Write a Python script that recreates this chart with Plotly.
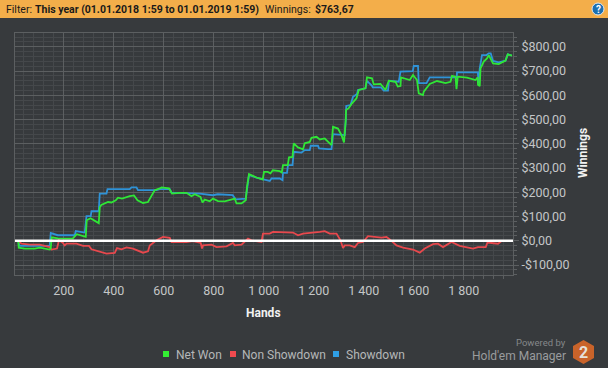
import plotly.graph_objects as go

BG = "#373a3d"
FONT = "Roboto"

net_hands = [18,20,44,84,104,144,148,152,176,236,252,288,292,307,340,344,350,377,391,408,417,433,464,481,495,517,537,551,564,584,591,621,633,664,691,711,724,747,755,764,784,797,817,844,871,884,891,911,928,933,941,971,996,1001,1016,1027,1036,1064,1072,1077,1096,1101,1115,1120,1137,1157,1164,1184,1191,1211,1224,1244,1264,1271,1277,1297,1311,1321,1328,1329,1340,1353,1371,1380,1407,1413,1433,1440,1467,1487,1500,1527,1536,1547,1549,1584,1597,1613,1620,1637,1640,1664,1693,1727,1747,1753,1767,1771,1776,1813,1847,1856,1857,1864,1867,1880,1893,1900,1917,1940,1967,1976,1993]
net_won = [0,-28,-32,-32,-28,-36,-30,14,10,9,27,16,85,93,73,138,148,160,158,167,178,174,184,187,167,156,160,188,209,216,220,216,195,198,198,184,192,181,158,170,163,174,164,163,171,174,154,154,167,222,275,261,253,284,284,278,291,287,282,312,312,344,346,402,385,377,402,408,425,429,418,422,402,395,470,463,436,406,498,539,547,567,588,622,629,674,670,645,647,622,660,656,636,638,674,663,684,663,608,601,615,647,659,650,656,680,677,625,677,673,663,674,643,638,711,739,752,766,732,729,743,769,764]

sd_hands = [17,24,144,148,176,244,248,284,291,308,311,340,344,371,375,464,471,491,497,571,584,624,631,744,796,816,876,887,928,933,941,971,1000,1024,1031,1064,1075,1077,1093,1097,1115,1120,1151,1164,1184,1188,1217,1221,1257,1271,1277,1324,1328,1330,1347,1357,1373,1377,1407,1413,1432,1436,1469,1480,1497,1501,1540,1547,1596,1600,1617,1620,1651,1664,1772,1773,1856,1860,1864,1873,1891,1900,1908,1917,1940,1967,1976,1992]
showdown = [0,-21,-21,32,23,23,40,34,102,102,122,122,195,195,213,213,220,220,209,209,213,213,199,195,188,192,188,171,174,222,271,261,254,247,257,257,250,280,280,312,312,367,364,374,374,392,392,381,378,378,440,436,498,556,560,594,605,622,629,660,640,633,633,619,619,660,656,698,700,721,721,650,650,674,674,695,695,650,711,766,766,773,773,742,736,743,769,764]

nsd_hands = [16,31,64,104,144,151,173,181,197,204,211,251,277,301,311,344,371,404,413,431,451,477,517,537,544,571,597,624,631,691,717,748,753,757,791,811,851,877,884,911,937,951,991,997,1024,1037,1077,1117,1137,1157,1224,1244,1264,1291,1307,1317,1324,1344,1364,1377,1397,1417,1471,1491,1504,1531,1557,1597,1624,1644,1677,1697,1717,1744,1751,1784,1811,1837,1857,1888,1895,1937,1951,1995]
non_showdown = [0,-12,-16,-16,-26,-36,-32,2,-9,-19,-12,-12,-21,-21,-35,-46,-53,-50,-30,-35,-27,-32,-49,-43,-19,2,16,12,-5,-5,-1,-9,-32,-19,-16,-26,-23,-9,-19,-16,9,2,-5,30,30,37,37,34,23,30,37,40,30,30,2,-30,-19,-19,-26,-9,-5,19,13,16,6,-19,-28,-36,-49,-32,-14,-12,-26,-12,-5,-21,-26,-32,-26,-26,-7,-12,-1,-1]

x_tick_vals = [200,400,600,800,1000,1200,1400,1600,1800]
x_tick_text = ["200","400","600","800","1 000","1 200","1 400","1 600","1 800"]
y_tick_vals = [-100,0,100,200,300,400,500,600,700,800]
y_tick_text = ["-$100,00","$0,00","$100,00","$200,00","$300,00","$400,00","$500,00","$600,00","$700,00","$800,00"]

legend_names = ["Net Won","Non Showdown","Showdown"]
legend_colors = ["#33ee33","#f04a4f","#2f9fe6"]

W, H = 608, 368
L, R, T, B = 15, 513, 33, 275
def px(x): return (x - L) / (R - L)
def py(y): return (B - y) / (B - T)

fig = go.Figure()
fig.add_trace(go.Scatter(x=sd_hands, y=showdown, name="Showdown", mode="lines", line=dict(color="#2f93d8", width=1.8)))
fig.add_trace(go.Scatter(x=nsd_hands, y=non_showdown, name="Non Showdown", mode="lines", line=dict(color="#e8484d", width=1.8)))
fig.add_trace(go.Scatter(x=net_hands, y=net_won, name="Net Won", mode="lines", line=dict(color="#2fe636", width=1.8)))

shapes = [
    dict(type="rect", xref="paper", yref="paper", x0=px(0), x1=px(W), y0=py(18), y1=py(0), fillcolor="#f3ae4a", line_width=0, layer="below"),
    dict(type="line", xref="paper", yref="y", x0=0, x1=1, y0=0, y1=0, line=dict(color="white", width=2.5), layer="above"),
    dict(type="circle", xref="paper", yref="paper", x0=px(592), x1=px(604), y0=py(15), y1=py(3), fillcolor="#1b6fb0", line=dict(color="#dfe8ef", width=1)),
    dict(type="path", xref="paper", yref="paper",
         path=f"M {px(583.5)} {py(340)} L {px(594)} {py(346)} L {px(594)} {py(358)} L {px(583.5)} {py(364)} L {px(573)} {py(358)} L {px(573)} {py(346)} Z",
         fillcolor="#c9632a", line_width=0),
]
annots = [
    dict(x=px(5), y=py(9.5), text="Filter:", font=dict(size=10.5, color="#1a1a1a"), xanchor="left"),
    dict(x=px(34), y=py(9.5), text="<b>This year (01.01.2018 1:59 to 01.01.2019 1:59)</b>", font=dict(size=10.5, color="#1a1a1a"), xanchor="left"),
    dict(x=px(264), y=py(9.5), text="Winnings:", font=dict(size=10.5, color="#1a1a1a"), xanchor="left"),
    dict(x=px(314), y=py(9.5), text="<b>$763,67</b>", font=dict(size=10.5, color="#1a1a1a"), xanchor="left"),
    dict(x=px(598), y=py(9), text="<b>?</b>", font=dict(size=10, color="white")),
    dict(x=px(263), y=py(313), text="<b>Hands</b>", font=dict(size=12, color="#f2f2f2")),
    dict(x=px(583), y=py(153), text="<b>Winnings</b>", textangle=-90, font=dict(size=12, color="#f2f2f2")),
    dict(x=px(567), y=py(342), text="Powered by", font=dict(size=9.5, color="#85888a"), xanchor="right"),
    dict(x=px(567), y=py(355.5), text="Hold'em Manager", font=dict(size=12, color="#9a9c9e"), xanchor="right"),
    dict(x=px(583.5), y=py(352), text="<b>2</b>", font=dict(size=16, color="#e6e0da")),
]
for name, color, mx, tx in zip(legend_names, legend_colors, [166, 233, 336], [175, 241, 345]):
    shapes.append(dict(type="rect", xref="paper", yref="paper", x0=px(mx-3), x1=px(mx+3), y0=py(357), y1=py(351), fillcolor=color, line_width=0))
    annots.append(dict(x=px(tx), y=py(354.5), text=name, font=dict(size=12, color="#b5b7b8"), xanchor="left"))
for a in annots:
    a.update(xref="paper", yref="paper", showarrow=False, borderpad=0, yanchor="middle")
    a.setdefault("xanchor", "center")

fig.update_layout(
    width=W, height=H, autosize=False,
    margin=dict(l=L, r=W-R, t=T, b=H-B, pad=0),
    paper_bgcolor=BG, plot_bgcolor=BG,
    font=dict(family=FONT, size=12, color="#c4c6c7"),
    showlegend=False, shapes=shapes, annotations=annots,
    xaxis=dict(range=[5, 1997], tickmode="array", tickvals=x_tick_vals, ticktext=x_tick_text,
               showgrid=True, gridcolor="#5c5f61", gridwidth=1, ticks="outside", ticklen=4, tickcolor="#5c5f61",
               zeroline=False, showline=True, linecolor="#5c5f61", mirror=True,
               tickfont=dict(size=12.5, color="#c4c6c7"),
               minor=dict(dtick=40, tick0=0, showgrid=True, gridcolor="#45484b", gridwidth=1, ticks="outside", ticklen=3, tickcolor="#5c5f61")),
    yaxis=dict(range=[-141, 857], side="right", tickmode="array", tickvals=y_tick_vals, ticktext=y_tick_text,
               showgrid=True, gridcolor="#5c5f61", gridwidth=1, ticks="outside", ticklen=5, tickcolor="#5c5f61",
               zeroline=False, showline=True, linecolor="#5c5f61", mirror=True,
               tickfont=dict(size=12.5, color="#c4c6c7"),
               minor=dict(dtick=20, tick0=0, showgrid=True, gridcolor="#45484b", gridwidth=1, ticks="outside", ticklen=3, tickcolor="#5c5f61")),
)
fig.write_html("out.html", post_script="document.body.style.margin='0';", config=dict(displayModeBar=False))
